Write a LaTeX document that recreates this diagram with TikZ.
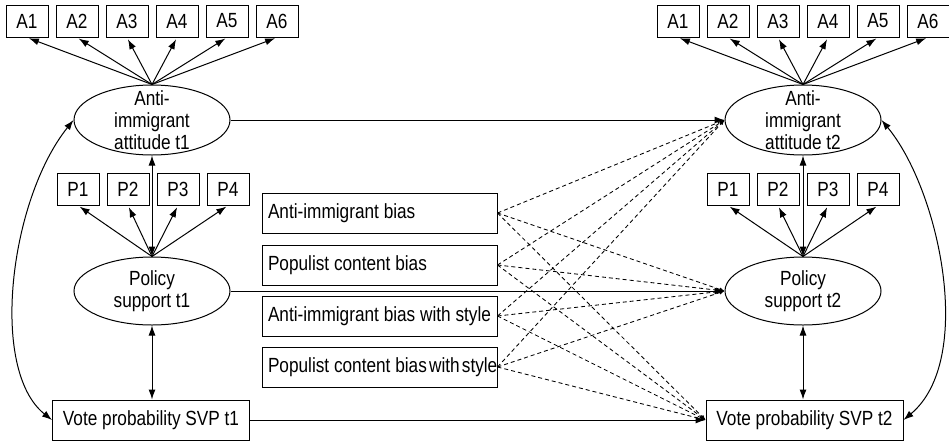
\documentclass[tikz,border=0pt]{standalone}
\usepackage{fontspec}
\setmainfont[FakeStretch=0.84]{Liberation Sans}
\usetikzlibrary{shapes.geometric,arrows.meta}
\begin{document}
\begin{tikzpicture}[x=1pt,y=-1pt,
  every node/.style={font=\fontsize{20.5}{22}\selectfont, inner sep=0pt},
  ind/.style={draw, line width=1pt, minimum width=42pt, minimum height=32pt},
  lat/.style={draw, ellipse, line width=1pt, minimum width=156pt, minimum height=70pt},
  ltext/.style={align=center},
  wbox/.style={draw, line width=1pt, minimum width=197pt, minimum height=40pt},
  mbox/.style={draw, line width=1pt, minimum height=40pt, inner xsep=6pt},
  arr/.style={line width=1pt, -{Latex[length=10pt,width=7pt]}},
  darr/.style={line width=1pt, {Latex[length=10pt,width=7pt]}-{Latex[length=10pt,width=7pt]}},
  dsh/.style={line width=0.85pt, dash pattern=on 4pt off 3pt, -{Latex[length=5pt,width=4pt]}}
]
\useasboundingbox (0,0) rectangle (949,442);
% indicator boxes
\foreach \i/\x in {1/27,2/77,3/127,4/177,5/227,6/277} \node[ind] (la\i) at (\x,21) {A\i};
\foreach \i/\x in {1/678,2/728,3/778,4/828,5/878,6/928} \node[ind] (ra\i) at (\x,21) {A\i};
\foreach \i/\x in {1/78,2/128,3/178,4/228} \node[ind] (lp\i) at (\x,189) {P\i};
\foreach \i/\x in {1/728,2/778,3/828,4/878} \node[ind] (rp\i) at (\x,189) {P\i};
% latent variables
\node[lat] (att1) at (152,120) {};
\node[ltext] at (att1.center) {Anti-\\immigrant\\attitude t1};
\node[lat] (att2) at (803,120) {};
\node[ltext] at (att2.center) {Anti-\\immigrant\\attitude t2};
\node[lat, minimum height=68pt] (pol1) at (152,291) {};
\node[ltext] at (pol1.center) {Policy\\support t1};
\node[lat, minimum height=68pt] (pol2) at (803,291) {};
\node[ltext] at (pol2.center) {Policy\\support t2};
% vote boxes
\node[wbox] (vote1) at (151,420) {Vote probability SVP t1};
\node[wbox] (vote2) at (804.5,420) {Vote probability SVP t2};
% middle boxes
\node[mbox] (m1) at (379.5,213) {\makebox[223pt][l]{Anti-immigrant bias}};
\node[mbox] (m2) at (379.5,265) {\makebox[223pt][l]{Populist content bias}};
\node[mbox] (m3) at (379.5,316) {\makebox[223pt][l]{Anti-immigrant bias with style}};
\node[mbox] (m4) at (379.5,367) {\makebox[223pt][l]{Populist content bias\hspace{2.2pt}with\hspace{2.2pt}style}};
% loadings
\foreach \i in {1,...,6} {
  \draw[arr, shorten >=2pt] (att1.north) -- (la\i.south);
  \draw[arr, shorten >=2pt] (att2.north) -- (ra\i.south);
}
\foreach \i in {1,...,4} {
  \draw[arr, shorten >=2pt] (pol1.north) -- (lp\i.south);
  \draw[arr, shorten >=2pt] (pol2.north) -- (rp\i.south);
}
% correlations
\draw[darr] (att1.south) -- (pol1.north);
\draw[darr] (att2.south) -- (pol2.north);
\draw[darr] (pol1.south) -- (pol1.south |- vote1.north);
\draw[darr] (pol2.south) -- (pol2.south |- vote2.north);
\draw[darr] (att1.west) .. controls +(-64,80) and +(-63,-50) .. (vote1.west);
\draw[darr] (att2.east) .. controls +(58,70) and +(72,-60) .. (vote2.east);
% stability paths
\draw[arr] (att1.east) -- (att2.west);
\draw[arr] (pol1.east) -- (pol2.west);
\draw[arr] (vote1.east) -- (vote2.west);
% dashed effects
\foreach \m in {m1,m2,m3,m4}
  \foreach \t in {att2,pol2,vote2}
    \draw[dsh] (\m.east) -- (\t.west);
\end{tikzpicture}
\end{document}
